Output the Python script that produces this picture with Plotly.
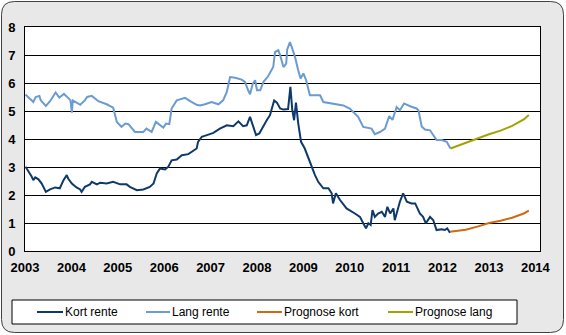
import plotly.graph_objects as go

# ---------------- data ----------------
kort_years = [2003.01, 2003.07, 2003.14, 2003.18, 2003.22, 2003.29, 2003.36, 2003.45, 2003.54, 2003.65,
              2003.75, 2003.83, 2003.90, 2003.93, 2004.01, 2004.11, 2004.19, 2004.22, 2004.29, 2004.40,
              2004.44, 2004.55, 2004.62, 2004.76, 2004.90, 2005.05, 2005.19, 2005.26, 2005.41, 2005.55,
              2005.69, 2005.77, 2005.84, 2005.91, 2006.02, 2006.09, 2006.16, 2006.27, 2006.38, 2006.52,
              2006.63, 2006.70, 2006.73, 2006.81, 2006.92, 2007.06, 2007.20, 2007.35, 2007.49, 2007.60,
              2007.70, 2007.78, 2007.85, 2007.91, 2007.98, 2008.05, 2008.14, 2008.21, 2008.28, 2008.37,
              2008.43, 2008.50, 2008.57, 2008.67, 2008.72, 2008.76, 2008.80, 2008.84, 2008.89, 2008.95,
              2009.03, 2009.11, 2009.18, 2009.25, 2009.32, 2009.43, 2009.54, 2009.61, 2009.64, 2009.70,
              2009.79, 2009.93, 2010.11, 2010.22, 2010.29, 2010.35, 2010.40, 2010.45, 2010.49, 2010.54,
              2010.61, 2010.69, 2010.76, 2010.81, 2010.87, 2010.94, 2010.97, 2011.05, 2011.08, 2011.15,
              2011.23, 2011.33, 2011.41, 2011.51, 2011.58, 2011.64, 2011.73, 2011.80, 2011.87, 2011.98,
              2012.05, 2012.10, 2012.16]
kort_values = [3.01, 2.86, 2.67, 2.53, 2.63, 2.56, 2.41, 2.11, 2.20, 2.27,
               2.24, 2.53, 2.71, 2.59, 2.41, 2.27, 2.20, 2.11, 2.29, 2.38,
               2.47, 2.38, 2.44, 2.41, 2.47, 2.38, 2.38, 2.29, 2.17, 2.20,
               2.29, 2.41, 2.77, 2.95, 2.91, 3.01, 3.24, 3.27, 3.42, 3.46,
               3.58, 3.66, 3.90, 4.08, 4.14, 4.22, 4.37, 4.49, 4.46, 4.63,
               4.46, 4.49, 4.79, 4.45, 4.14, 4.20, 4.49, 4.67, 4.85, 5.38,
               5.30, 5.09, 5.05, 5.07, 5.86, 5.05, 4.67, 5.30, 4.55, 3.90,
               3.66, 3.30, 2.95, 2.71, 2.47, 2.24, 2.24, 2.06, 1.70, 2.06,
               1.82, 1.52, 1.34, 1.22, 0.99, 0.81, 0.99, 0.93, 1.46, 1.22,
               1.34, 1.40, 1.22, 1.58, 1.34, 1.52, 1.10, 1.64, 1.76, 2.06,
               1.76, 1.70, 1.70, 1.34, 1.22, 0.99, 1.22, 1.10, 0.75, 0.78,
               0.75, 0.81, 0.65]

lang_years = [2003.01, 2003.11, 2003.18, 2003.23, 2003.31, 2003.34, 2003.45, 2003.54, 2003.66, 2003.74,
              2003.84, 2003.93, 2003.98, 2004.01, 2004.03, 2004.19, 2004.29, 2004.34, 2004.44, 2004.58,
              2004.76, 2004.90, 2004.98, 2005.08, 2005.16, 2005.23, 2005.37, 2005.55, 2005.62, 2005.73,
              2005.82, 2005.98, 2006.04, 2006.11, 2006.16, 2006.27, 2006.45, 2006.56, 2006.70, 2006.77,
              2006.88, 2007.02, 2007.17, 2007.27, 2007.35, 2007.42, 2007.53, 2007.67, 2007.74, 2007.81,
              2007.85, 2007.91, 2007.96, 2008.00, 2008.07, 2008.14, 2008.24, 2008.35, 2008.39, 2008.46,
              2008.50, 2008.57, 2008.63, 2008.65, 2008.71, 2008.75, 2008.82, 2008.89, 2008.94, 2009.00,
              2009.06, 2009.14, 2009.25, 2009.36, 2009.43, 2009.64, 2009.86, 2010.00, 2010.08, 2010.18,
              2010.29, 2010.47, 2010.54, 2010.65, 2010.76, 2010.85, 2010.92, 2011.01, 2011.08, 2011.17,
              2011.30, 2011.44, 2011.48, 2011.55, 2011.62, 2011.73, 2011.87, 2011.98, 2012.09, 2012.17]
lang_values = [5.59, 5.44, 5.32, 5.50, 5.54, 5.38, 5.18, 5.35, 5.66, 5.48,
               5.61, 5.47, 5.38, 4.94, 5.38, 5.22, 5.38, 5.50, 5.54, 5.35,
               5.24, 5.12, 4.61, 4.43, 4.55, 4.53, 4.25, 4.25, 4.37, 4.25,
               4.61, 4.41, 4.55, 4.53, 5.09, 5.38, 5.47, 5.35, 5.22, 5.20,
               5.24, 5.32, 5.24, 5.38, 5.68, 6.21, 6.19, 6.12, 6.04, 5.74,
               5.60, 5.98, 6.10, 5.74, 5.74, 6.04, 6.24, 6.57, 7.11, 7.17,
               6.99, 6.57, 6.69, 7.19, 7.46, 7.28, 6.93, 6.45, 6.16, 6.34,
               6.10, 5.56, 5.56, 5.56, 5.32, 5.27, 5.20, 5.09, 4.97, 4.79,
               4.43, 4.37, 4.17, 4.25, 4.37, 4.82, 4.68, 5.14, 5.03, 5.27,
               5.17, 5.09, 5.03, 4.45, 4.34, 4.31, 3.96, 3.96, 3.90, 3.66]

prog_kort_years = [2012.16, 2012.50, 2012.75, 2013.00, 2013.25, 2013.50, 2013.75, 2013.86]
prog_kort_values = [0.69, 0.76, 0.87, 1.00, 1.08, 1.19, 1.34, 1.44]

prog_lang_years = [2012.17, 2012.50, 2012.75, 2013.00, 2013.25, 2013.50, 2013.75, 2013.86]
prog_lang_values = [3.66, 3.86, 4.03, 4.17, 4.30, 4.47, 4.70, 4.86]

series_names = ["Kort rente", "Lang rente", "Prognose kort", "Prognose lang"]
series_colors = ["#0E3A6B", "#6A9BD1", "#D0690F", "#A3A300"]

x_ticks = list(range(2003, 2015))
y_ticks = list(range(0, 9))

# ---------------- figure ----------------
W, H = 566, 335
ML, MR, MT, MB = 25, 26, 27, 84
PW, PH = W - ML - MR, H - MT - MB


def px_x(px):
    return (px - ML) / PW


def px_y(py):
    return (H - MB - py) / PH


fig = go.Figure()
xs = [kort_years, lang_years, prog_kort_years, prog_lang_years]
ys = [kort_values, lang_values, prog_kort_values, prog_lang_values]
for name, color, x, y in zip(series_names, series_colors, xs, ys):
    fig.add_trace(go.Scatter(x=x, y=y, mode="lines", name=name,
                             line=dict(color=color, width=2), showlegend=False))


def rounded_rect(x0, y0, x1, y1, r):
    X = lambda p: px_x(p)
    Y = lambda p: px_y(p)
    return (f"M {X(x0 + r)},{Y(y0)} L {X(x1 - r)},{Y(y0)} "
            f"Q {X(x1)},{Y(y0)} {X(x1)},{Y(y0 + r)} "
            f"L {X(x1)},{Y(y1 - r)} Q {X(x1)},{Y(y1)} {X(x1 - r)},{Y(y1)} "
            f"L {X(x0 + r)},{Y(y1)} Q {X(x0)},{Y(y1)} {X(x0)},{Y(y1 - r)} "
            f"L {X(x0)},{Y(y0 + r)} Q {X(x0)},{Y(y0)} {X(x0 + r)},{Y(y0)} Z")


shapes = [
    dict(type="path", xref="paper", yref="paper", layer="below",
         path=rounded_rect(1.5, 1.5, 563.5, 332.5, 13),
         fillcolor="#E8E8E8", line=dict(color="#404040", width=1)),
    dict(type="rect", xref="paper", yref="paper", layer="below",
         x0=0, x1=1, y0=0, y1=1, fillcolor="white", line=dict(width=0)),
    # legend box
    dict(type="rect", xref="paper", yref="paper",
         x0=px_x(12), x1=px_x(517), y0=px_y(324), y1=px_y(300),
         fillcolor="white", line=dict(color="black", width=1)),
]
annotations = []
leg_line_x = [(37, 63), (146, 170), (257, 282), (388, 413)]
leg_text_x = [63, 170, 282, 413]
for name, color, (a, b), tx in zip(series_names, series_colors, leg_line_x, leg_text_x):
    shapes.append(dict(type="line", xref="paper", yref="paper",
                       x0=px_x(a), x1=px_x(b), y0=px_y(312), y1=px_y(312),
                       line=dict(color=color, width=2)))
    annotations.append(dict(text=name, xref="paper", yref="paper", x=px_x(tx), y=px_y(312),
                            xanchor="left", yanchor="middle", showarrow=False,
                            font=dict(family="Liberation Sans, Arial", size=12, color="black")))

fig.update_layout(
    width=W, height=H,
    margin=dict(l=ML, r=MR, t=MT, b=MB, autoexpand=False),
    paper_bgcolor="white",
    plot_bgcolor="white",
    shapes=shapes,
    annotations=annotations,
    font=dict(family="Liberation Sans, Arial", size=13, color="black"),
)
fig.update_xaxes(range=[2003, 2014.1], tickvals=x_ticks, ticktext=[str(t) for t in x_ticks],
                 showgrid=False, zeroline=False, showline=True, linecolor="black", linewidth=1,
                 mirror=True, ticks="", ticklabelstandoff=4, automargin=False,
                 tickfont=dict(family="Liberation Sans, Arial", size=13, color="black", weight="bold"))
fig.update_yaxes(range=[0, 8], tickvals=y_ticks, showgrid=True, gridcolor="black", gridwidth=1,
                 zeroline=False, showline=True, linecolor="black", linewidth=1, mirror=True,
                 ticks="", ticklabelstandoff=6, automargin=False,
                 tickfont=dict(family="Liberation Sans, Arial", size=13, color="black", weight="bold"))

fig.write_html("out.html")
